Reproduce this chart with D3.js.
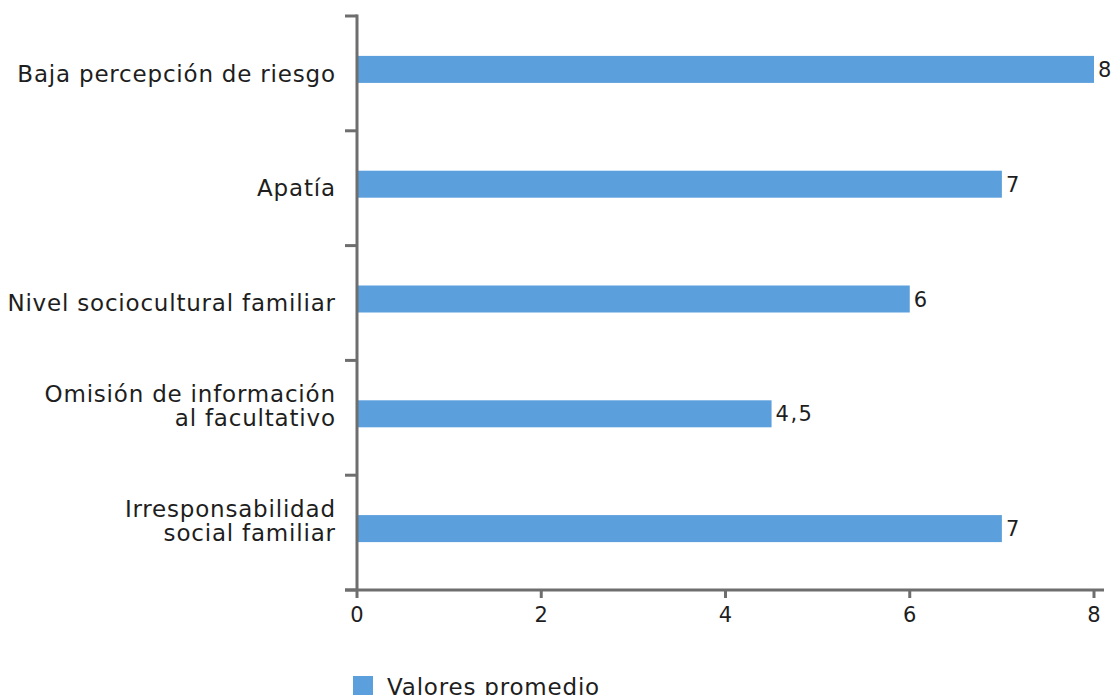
<!DOCTYPE html>
<html>
<head>
<meta charset="utf-8">
<script src="https://cdn.jsdelivr.net/npm/d3@7/dist/d3.min.js"></script>
<style>
  html, body { margin: 0; padding: 0; background: #fff; overflow: hidden; }
  svg { display: block; font-family: "DejaVu Sans", Verdana, sans-serif; }
</style>
</head>
<body>
<svg id="chart" width="1115" height="695"></svg>
<script>
// Average score per factor
const categories = [
  ["Baja percepción de riesgo"],
  ["Apatía"],
  ["Nivel sociocultural familiar"],
  ["Omisión de información", "al facultativo"],
  ["Irresponsabilidad", "social familiar"]
];
const values = [8, 7, 6, 4.5, 7];
const valueLabels = ["8", "7", "6", "4,5", "7"];
const xTicks = [0, 2, 4, 6, 8];
const seriesName = "Valores promedio";

(function draw() {
  const svg = d3.select("#chart");
  const plotLeft = 357, plotRight = 1094, plotTop = 16, plotBottom = 590;
  const axisColor = "#6e6e6e";
  const barColor = "#5b9fdc";
  const textColor = "#1e1e1e";
  const catFont = 23, catSpacing = 0.8;
  const numFont = 21, numSpacing = 1.5;

  const x = d3.scaleLinear().domain([0, 8]).range([plotLeft, plotRight]);
  const y = d3.scaleBand().domain(d3.range(categories.length)).range([plotTop, plotBottom]);
  const barH = 27;
  const center = i => y(i) + y.bandwidth() / 2;
  const barMid = i => center(i) - 4;

  // bars
  svg.selectAll("rect.bar").data(values).enter().append("rect")
    .attr("class", "bar")
    .attr("x", x(0))
    .attr("y", (d, i) => barMid(i) - barH / 2)
    .attr("width", d => x(d) - x(0))
    .attr("height", barH)
    .attr("fill", barColor);

  // value labels
  svg.selectAll("text.val").data(values).enter().append("text")
    .attr("class", "val")
    .attr("x", d => x(d) + 4)
    .attr("y", (d, i) => barMid(i) + 0.36 * numFont)
    .attr("font-size", numFont)
    .attr("letter-spacing", numSpacing)
    .attr("fill", textColor)
    .text((d, i) => valueLabels[i]);

  // category axis
  const yAxis = svg.append("g").attr("transform", `translate(${plotLeft},0)`);
  yAxis.append("line")
    .attr("x1", 0).attr("x2", 0).attr("y1", plotTop - 1.5).attr("y2", plotBottom)
    .attr("stroke", axisColor).attr("stroke-width", 3);
  const boundaries = d3.range(categories.length + 1).map(i => plotTop + i * y.step());
  yAxis.selectAll("line.tick").data(boundaries).enter().append("line")
    .attr("class", "tick")
    .attr("x1", -12).attr("x2", 0)
    .attr("y1", d => d).attr("y2", d => d)
    .attr("stroke", axisColor).attr("stroke-width", 3);

  // category labels: the last line sits on the band centre, earlier lines stack above
  const lineH = 24;
  svg.selectAll("text.cat").data(categories).enter().append("text")
    .attr("class", "cat")
    .attr("text-anchor", "end")
    .attr("font-size", catFont)
    .attr("letter-spacing", catSpacing)
    .attr("fill", textColor)
    .each(function (lines, i) {
      const t = d3.select(this);
      lines.forEach((ln, k) => {
        t.append("tspan")
          .attr("x", 335 + catSpacing)
          .attr("y", center(i) + 0.36 * catFont - (lines.length - 1 - k) * lineH)
          .text(ln);
      });
    });

  // value axis
  const xAxis = svg.append("g").attr("transform", `translate(0,${plotBottom})`);
  xAxis.append("line")
    .attr("x1", plotLeft - 12).attr("x2", 1104).attr("y1", 0).attr("y2", 0)
    .attr("stroke", axisColor).attr("stroke-width", 3);
  xAxis.selectAll("line.tick").data(xTicks).enter().append("line")
    .attr("class", "tick")
    .attr("x1", d => x(d)).attr("x2", d => x(d))
    .attr("y1", 0).attr("y2", 8)
    .attr("stroke", axisColor).attr("stroke-width", 3);
  xAxis.selectAll("text").data(xTicks).enter().append("text")
    .attr("x", d => x(d))
    .attr("y", 24.5 + 0.36 * numFont)
    .attr("text-anchor", "middle")
    .attr("font-size", numFont)
    .attr("fill", textColor)
    .text(d => d);

  // legend, sitting on the bottom edge
  const legend = svg.append("g").attr("transform", "translate(353,676)");
  legend.append("rect").attr("width", 20).attr("height", 20).attr("fill", barColor);
  legend.append("text")
    .attr("x", 34).attr("y", 19)
    .attr("font-size", catFont)
    .attr("letter-spacing", 0.8)
    .attr("fill", textColor)
    .text(seriesName);
})();
</script>
</body>
</html>
